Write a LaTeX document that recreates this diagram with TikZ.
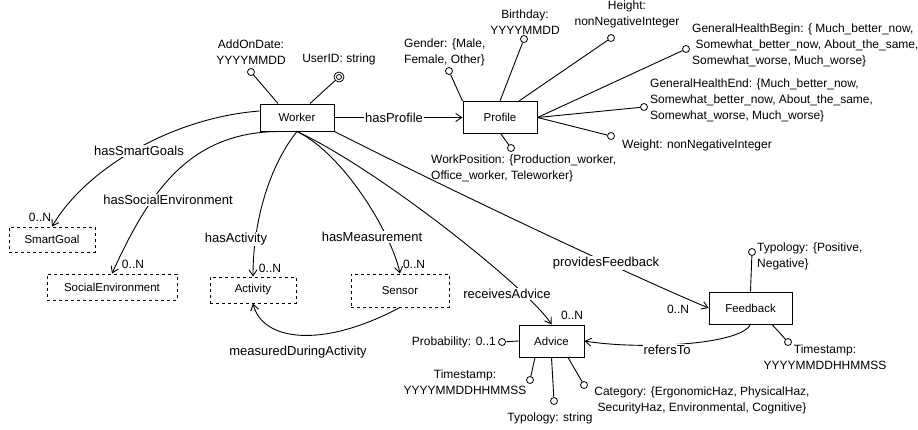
\documentclass[tikz,border=0pt]{standalone}
\usepackage{fontspec}
\setmainfont{Liberation Sans}
\usetikzlibrary{arrows.meta,calc}
\begin{document}
\begin{tikzpicture}[x=1pt,y=-1pt,
  box/.style={draw,line width=1pt,inner sep=0pt,font=\fontsize{11.5}{14}\selectfont},
  dbox/.style={box,line width=0.9pt,dash pattern=on 3pt off 3pt},
  attr/.style={circle,draw,fill=white,minimum size=7pt,inner sep=0pt,line width=0.8pt},
  atext/.style={inner sep=0pt,font=\fontsize{12}{16}\selectfont},
  elabel/.style={fill=white,inner sep=1pt,font=\fontsize{13}{15}\selectfont},
  mult/.style={inner sep=0pt,font=\fontsize{12}{14}\selectfont},
  conn/.style={line width=0.9pt,-{Straight Barb[length=6pt,width=8pt]}},
  aline/.style={line width=0.9pt}]
\useasboundingbox (0,0) rectangle (918,429);

% boxes
\node[box,minimum width=74pt,minimum height=27pt] (Worker) at (297,117.5) {Worker};
\node[box,minimum width=74pt,minimum height=32pt] (Profile) at (500,117.5) {Profile};
\node[box,minimum width=83pt,minimum height=32pt] (Feedback) at (750.5,308) {Feedback};
\node[box,minimum width=65pt,minimum height=32pt] (Advice) at (551.5,341) {Advice};
\node[dbox,minimum width=86pt,minimum height=25pt] (SmartGoal) at (52,239.5) {SmartGoal};
\node[dbox,minimum width=130pt,minimum height=26pt] (SocialEnv) at (112,287) {SocialEnvironment};
\node[dbox,minimum width=86pt,minimum height=26pt] (Activity) at (253,290) {Activity};
\node[dbox,minimum width=98pt,minimum height=33pt] (Sensor) at (400,290.5) {Sensor};

% attribute circles
\node[attr] (aAdd) at (251,72) {};
\node[attr,minimum size=10pt] (aUid) at (339,77) {};
\node[circle,draw,minimum size=5pt,inner sep=0pt,line width=0.8pt] (aUidIn) at (aUid.center) {};
\node[attr] (aGender) at (449,71) {};
\node[attr] (aBirth) at (524,39) {};
\node[attr] (aHeight) at (611,38) {};
\node[attr] (aGhb) at (686,49) {};
\node[attr] (aGhe) at (644,107) {};
\node[attr] (aWeight) at (611,136) {};
\node[attr] (aWork) at (511,148) {};
\node[attr] (aFtyp) at (752,252) {};
\node[attr] (aFts) at (788,342) {};
\node[attr] (aProb) at (502,342) {};
\node[attr] (aAts) at (530,380) {};
\node[attr] (aAtyp) at (554,401) {};
\node[attr] (aCat) at (584,385) {};

% attribute lines
\draw[aline] ($(Worker.north)+(-19,0)$) -- (aAdd);
\draw[aline] ($(Worker.north)+(13,0)$) -- (aUid);
\draw[aline] (Profile.north west) -- (aGender);
\draw[aline] (Profile.north) -- (aBirth);
\draw[aline] ($(Profile.north)+(19,0)$) -- (aHeight);
\draw[aline] (Profile.east) -- (aGhb);
\draw[aline] (Profile.east) -- (aGhe);
\draw[aline] (Profile.east) -- (aWeight);
\draw[aline] ($(Profile.south)+(1,0)$) -- (aWork);
\draw[aline] (Feedback.north) -- (aFtyp);
\draw[aline] ($(Feedback.south)+(21.5,0)$) -- (aFts);
\draw[aline] (Advice.west) -- (aProb);
\draw[aline] ($(Advice.south)+(-16.5,0)$) -- (aAts);
\draw[aline] (Advice.south) -- (aAtyp);
\draw[aline] ($(Advice.south)+(16.5,0)$) -- (aCat);

% attribute texts
\node[atext,align=center] (tAdd) at (251,52) {AddOnDate:\\YYYYMMDD};
\node[atext] (tUid) at (339,59) {UserID: string};
\node[atext,align=left,anchor=west] (tGender) at (404,52) {Gender: \{Male,\\Female, Other\}};
\node[atext,align=center] (tBirth) at (525,22) {Birthday:\\YYYYMMDD};
\node[atext,align=center] (tHeight) at (627,14.5) {Height:\\nonNegativeInteger};
\node[atext,align=left,anchor=west] (tGhb) at (692,45.5) {GeneralHealthBegin: \{ Much\_better\_now,\\\hspace*{3.5pt}Somewhat\_better\_now, About\_the\_same,\\Somewhat\_worse, Much\_worse\}};
\node[atext,align=left,anchor=west] (tGhe) at (650,100.5) {GeneralHealthEnd: \{Much\_better\_now,\\Somewhat\_better\_now, About\_the\_same,\\Somewhat\_worse, Much\_worse\}};
\node[atext,anchor=west] (tWeight) at (622,145) {Weight: nonNegativeInteger};
\node[atext,align=left,anchor=west] (tWork) at (431,168.5) {WorkPosition: \{Production\_worker,\\Office\_worker, Teleworker\}};
\node[atext,align=left,anchor=west] (tFtyp) at (757,256) {Typology: \{Positive,\\Negative\}};
\node[atext,align=center] (tFts) at (825,357) {Timestamp:\\YYYYMMDDHHMMSS};
\node[atext,anchor=east] (tProb) at (496,342) {Probability: 0..1};
\node[atext,align=center] (tAts) at (465,382) {Timestamp:\\YYYYMMDDHHMMSS};
\node[atext] (tAtyp) at (550,418) {Typology: string};
\node[atext,align=center] (tCat) at (702,400) {Category: \{ErgonomicHaz, PhysicalHaz,\\SecurityHaz, Environmental, Cognitive\}};

% relations
\draw[conn] (Worker.east) -- (Profile.west);
\draw[conn] ($(Worker.west)+(0,-6.5)$) .. controls (170,118) and (85,170) .. (SmartGoal.north);
\draw[conn] ($(Worker.south)+(-20,0)$) .. controls (190,133) and (150,190) .. (SocialEnv.north);
\draw[conn] (Worker.south) .. controls (270,165) and (253,220) .. (Activity.north);
\draw[conn] (Worker.south) .. controls (345,155) and (392,235) .. (Sensor.north);
\draw[conn] (Worker.south) .. controls (380,170) and (530,290) .. (Advice.north);
\draw[conn] (Worker.south east) .. controls (460,195) and (630,275) .. (Feedback.west);
\draw[conn] (Feedback.south) .. controls (740,345) and (640,350) .. (Advice.east);
\draw[conn] (Sensor.south) .. controls (320,350) and (262,340) .. (Activity.south);

% relation labels
\node[elabel] (lProfile) at (394,118) {hasProfile};
\node[elabel] (lSmart) at (139,151) {hasSmartGoals};
\node[elabel] (lSocial) at (168,200) {hasSocialEnvironment};
\node[elabel] (lAct) at (236,239) {hasActivity};
\node[elabel] (lMeas) at (372,237) {hasMeasurement};
\node[elabel] (lAdv) at (507,294) {receivesAdvice};
\node[elabel] (lFeed) at (606,263) {providesFeedback};
\node[elabel] (lRef) at (667,350) {refersTo};
\node[elabel] (lMDA) at (298,352) {measuredDuringActivity};

% multiplicities
\node[mult] (mSmart) at (40,217) {0..N};
\node[mult] (mSocial) at (133,264) {0..N};
\node[mult] (mAct) at (270,268) {0..N};
\node[mult] (mSens) at (414,264) {0..N};
\node[mult] (mAdv) at (572,315) {0..N};
\node[mult] (mFeed) at (678,309) {0..N};
\end{tikzpicture}
\end{document}
